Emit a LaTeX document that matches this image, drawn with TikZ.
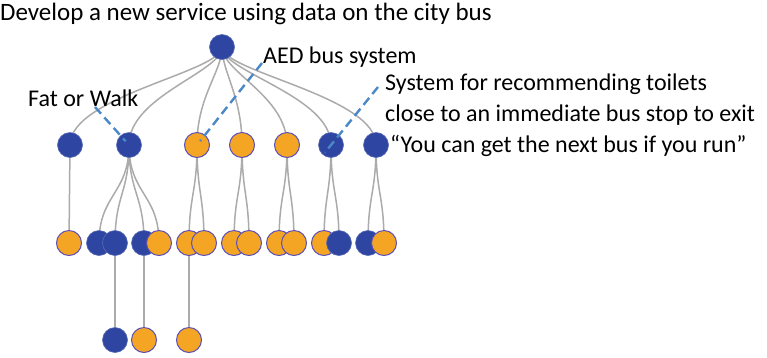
\documentclass[tikz,border=0pt]{standalone}
\usepackage{fontspec}
\setmainfont{Carlito}
\usetikzlibrary{backgrounds,calc}
\definecolor{nodeblue}{HTML}{2E45A1}
\definecolor{nodeorange}{HTML}{F5A524}
\definecolor{ringblue}{HTML}{5B50B8}
\definecolor{linkgray}{HTML}{ABABAB}
\definecolor{noteblue}{HTML}{4A88C8}
\tikzset{
	bluedot/.style={circle, fill=nodeblue, draw=nodeblue!80!white, line width=0.6pt, minimum size=25, inner sep=0},
	orangedot/.style={circle, fill=nodeorange, draw=ringblue, line width=1pt, minimum size=25, inner sep=0},
	link/.style={draw=linkgray, line width=1.5pt, to path={.. controls +(0,#1) and +(0,-49) .. (\tikztotarget)}},
	link/.default=49,
	stem/.style={draw=linkgray, line width=1.5pt},
	note/.style={draw=noteblue, line width=2.4pt, dash pattern=on 9pt off 5pt},
	caption/.style={font=\fontsize{24}{30}\selectfont, inner sep=0, anchor=base west}
}
\begin{document}
\begin{tikzpicture}[x=1pt, y=-1pt]
	\useasboundingbox (0,0) rectangle (767,357);
	% labels
	\node [caption, font=\fontsize{25}{30}\selectfont] (title) at (0, 20) {Develop a new service using data on the city bus};
	\node [caption] (aed) at (263, 63) {AED bus system};
	\node [caption] (fat) at (28, 106) {Fat or Walk};
	\node [caption] (sys1) at (385, 90) {System for recommending toilets};
	\node [caption] (sys2) at (385, 121) {close to an immediate bus stop to exit};
	\node [caption] (run) at (390, 152) {``You can get the next bus if you run''};
	% tree
	\node [bluedot] (root) at (222, 47) {};
	\node [bluedot] (a1) at (70, 145) {};
	\node [bluedot] (a2) at (129, 145) {};
	\node [orangedot] (a3) at (197, 145) {};
	\node [orangedot] (a4) at (242, 145) {};
	\node [orangedot] (a5) at (287, 145) {};
	\node [bluedot] (a6) at (331, 145) {};
	\node [bluedot] (a7) at (376, 145) {};
	\node [orangedot] (b1) at (69, 243) {};
	\node [bluedot] (b2) at (99, 243) {};
	\node [bluedot] (b3) at (115, 243) {};
	\node [bluedot] (b4) at (144, 243) {};
	\node [orangedot] (b5) at (159, 243) {};
	\node [orangedot] (b6) at (189, 243) {};
	\node [orangedot] (b7) at (204, 243) {};
	\node [orangedot] (b8) at (234, 243) {};
	\node [orangedot] (b9) at (249, 243) {};
	\node [orangedot] (b10) at (279, 243) {};
	\node [orangedot] (b11) at (294, 243) {};
	\node [orangedot] (b12) at (324, 243) {};
	\node [bluedot] (b13) at (339, 243) {};
	\node [bluedot] (b14) at (368, 243) {};
	\node [orangedot] (b15) at (384, 243) {};
	\node [bluedot] (c1) at (115, 340) {};
	\node [orangedot] (c2) at (144, 340) {};
	\node [orangedot] (c3) at (189, 340) {};
	\begin{scope}[on background layer]
		\foreach \child in {a1,a2,a3,a4,a5,a6,a7}
			\draw [link=25] (root.center) to (\child.center);
		\foreach \parent/\child in {a1/b1, a2/b2, a2/b3, a2/b4, a2/b5, a3/b6, a3/b7,
			a4/b8, a4/b9, a5/b10, a5/b11, a6/b12, a6/b13, a7/b14, a7/b15}
			\draw [link] (\parent.center) to (\child.center);
		\draw [stem] (b3.center) -- (c1.center);
		\draw [stem] (b4.center) -- (c2.center);
		\draw [stem] (b6.center) -- (c3.center);
	\end{scope}
	% pointers
	\coordinate (fatend) at (95, 107);
	\coordinate (aedend) at (262, 63);
	\coordinate (sysend) at (378, 87);
	\draw [note, shorten >=5pt] (fatend) -- (a2.center);
	\draw [note, shorten >=5pt] (aedend) -- (a3.center);
	\draw [note] (sysend) -- ($(sysend)!1.13!(a6.center)$);
\end{tikzpicture}
\end{document}
